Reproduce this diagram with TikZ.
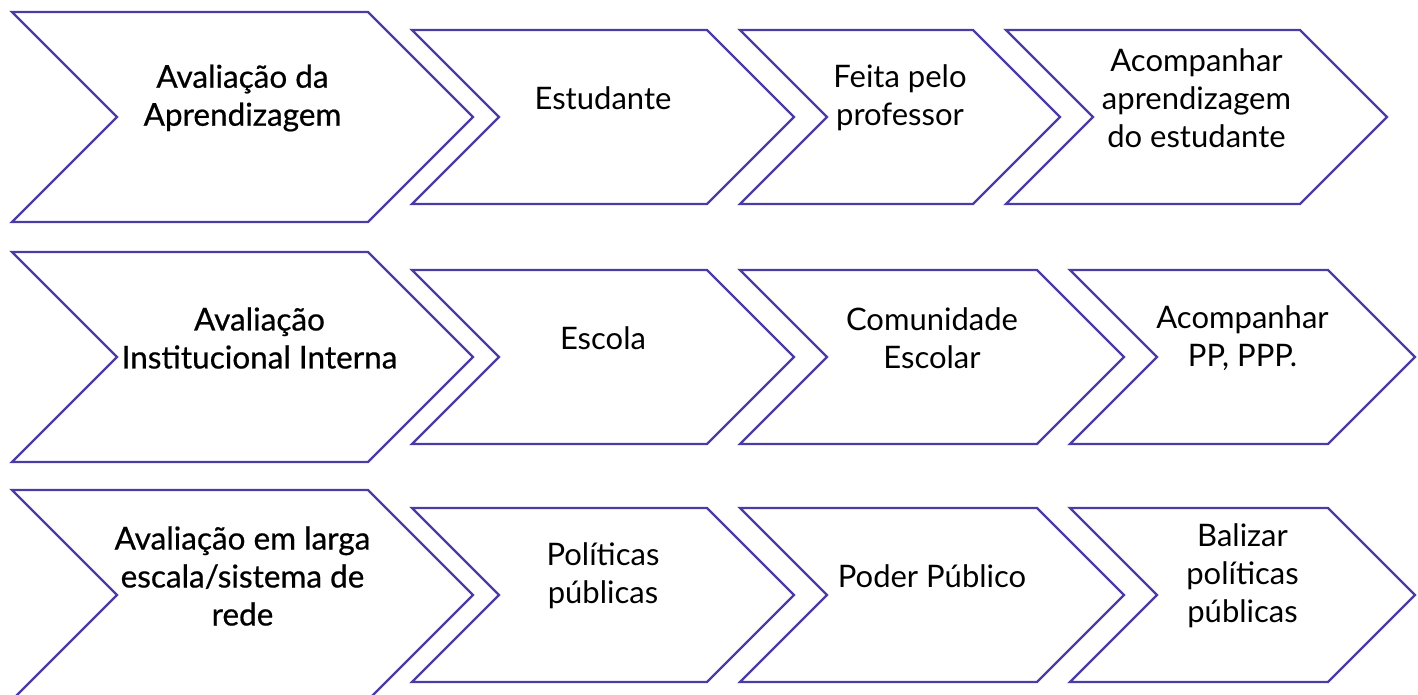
\documentclass[tikz,border=0pt]{standalone}
\usepackage{fontspec}
\setmainfont{Lato}
\newfontfamily\headfont{Lato}[FakeBold=0.6]
\definecolor{chevline}{RGB}{75,60,165}
\tikzset{
  chevron/.style={draw=chevline, line width=2.4pt, line join=miter},
  steptext/.style={align=center, inner sep=0pt, font=\fontsize{31}{38}\selectfont},
  headtext/.style={steptext, font=\fontsize{31.5}{38}\selectfont\headfont}
}
\begin{document}
\begin{tikzpicture}[x=1pt,y=-1pt]
  \useasboundingbox (0,0) rectangle (1418,694);
  \clip (0,0) rectangle (1418,694);
  % chevrons: name/left/right/centre y/half height
  \foreach \nm/\l/\r/\cy/\h in {
      aprend/12/368/117/105, estud/412/707/117/87, feita/740/973/117/87, acomp/1006/1300/117/87,
      instit/12/368/357/105, escola/412/707/357/87, comun/740/1037/357/87, acpp/1070/1328/357/87,
      larga/12/368/595/105, polit/412/707/595/87, poder/740/1037/595/87, baliz/1070/1328/595/87}{
    \draw[chevron] (\l,\cy-\h) -- (\r,\cy-\h) -- (\r+\h,\cy) -- (\r,\cy+\h)
      -- (\l,\cy+\h) -- (\l+\h,\cy) -- cycle;
    \coordinate (\nm) at ({(\l+\h+\r)/2},\cy-19);
  }
  % first row
  \node[headtext] (taprend) at (aprend) {Avaliação da\\Aprendizagem};
  \node[steptext] (testud) at (estud) {Estudante};
  \node[steptext] (tfeita) at (feita) {Feita pelo\\professor};
  \node[steptext] (tacomp) at (acomp) {Acompanhar\\aprendizagem\\do estudante};
  % second row
  \node[headtext, xshift=17pt] (tinstit) at (instit) {Avaliação\\Institucional Interna};
  \node[steptext] (tescola) at (escola) {Escola};
  \node[steptext] (tcomun) at (comun) {Comunidade\\Escolar};
  \node[steptext] (tacpp) at (acpp) {Acompanhar\\PP, PPP.};
  % third row
  \node[headtext] (tlarga) at (larga) {Avaliação em larga\\escala/sistema de\\rede};
  \node[steptext] (tpolit) at (polit) {Políticas\\públicas};
  \node[steptext] (tpoder) at (poder) {Poder Público};
  \node[steptext] (tbaliz) at (baliz) {Balizar\\políticas\\públicas};
\end{tikzpicture}
\end{document}
